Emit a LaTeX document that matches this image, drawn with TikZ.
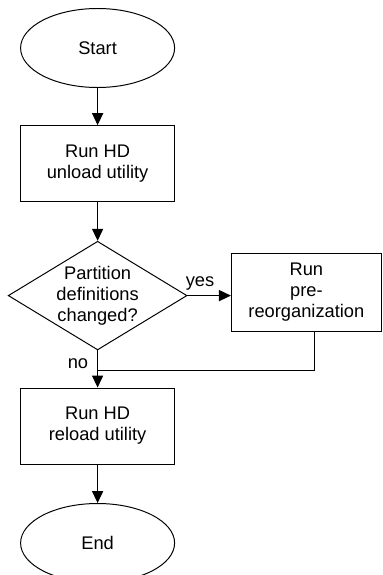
\documentclass[tikz,border=0pt]{standalone}
\usepackage{fontspec}
\setmainfont{Liberation Sans}
\usepackage{tikz}
\usetikzlibrary{arrows.meta,positioning,shapes.geometric}

\begin{document}
\begin{tikzpicture}[
    termnode/.style={draw, ellipse, minimum width=3.85cm, minimum height=1.975cm, inner sep=0pt, font=\fontsize{13}{14.8}\selectfont},
    procnode/.style={draw, rectangle, minimum width=3.85cm, minimum height=1.9cm, align=center, inner sep=0pt, font=\fontsize{13}{14.8}\selectfont},
    decnode/.style={draw, diamond, aspect=1.645, minimum width=4.4cm, minimum height=2.675cm, inner sep=0pt, align=center, font=\fontsize{13}{14.8}\selectfont},
    flow/.style={-{Triangle[length=0.3cm, width=0.28cm]}, line width=0.7pt},
    every node/.append style={line width=0.7pt},
    lbl/.style={font=\fontsize{13}{14.8}\selectfont}
]
\useasboundingbox (0,0) rectangle (9.55,-14.375);

\node[termnode] (start) at (2.44, -1.2) {Start};
\node[procnode] (unload) at (2.44, -4.09) {Run HD\\unload utility};
\node[decnode] (dec) at (2.44, -7.39) {Partition\\definitions\\changed?};
\node[procnode, minimum width=3.75cm, minimum height=1.95cm] (pre) at (7.66, -7.3) {Run\\pre-\\reorganization};
\node[procnode] (reload) at (2.44, -10.65) {Run HD\\reload utility};
\node[termnode] (end) at (2.44, -13.575) {End};

\coordinate (mrg) at (2.44, -9.25);

\draw[flow] (start) -- (unload);
\draw[flow] (unload) -- (dec);
\draw[flow] (dec.east) -- (dec.east -| pre.west);
\draw[flow] (dec.south) -- (reload);
\draw[line width=0.7pt] ([xshift=0.2cm]pre.south) |- (mrg);
\draw[flow] (reload) -- (end);

\node[lbl] (yes) at (5.0, -7.08) {yes};
\node[lbl] (no) at (1.95, -9.1) {no};

\end{tikzpicture}
\end{document}
